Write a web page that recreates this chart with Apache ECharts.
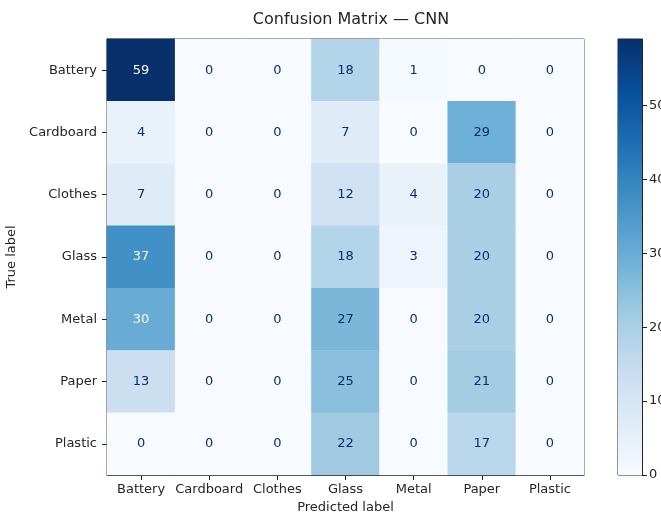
<!DOCTYPE html>
<html>
<head>
<meta charset="utf-8">
<script src="https://cdn.jsdelivr.net/npm/echarts@6/dist/echarts.min.js"></script>
<style>html,body{margin:0;padding:0;background:#fff;}#c{width:661px;height:515px;}</style>
</head>
<body>
<div id="c"></div>
<script>
var categories = ['Battery', 'Cardboard', 'Clothes', 'Glass', 'Metal', 'Paper', 'Plastic'];
// rows = true label, columns = predicted label
var rowBattery   = [59, 0, 0, 18, 1, 0, 0];
var rowCardboard = [4, 0, 0, 7, 0, 29, 0];
var rowClothes   = [7, 0, 0, 12, 4, 20, 0];
var rowGlass     = [37, 0, 0, 18, 3, 20, 0];
var rowMetal     = [30, 0, 0, 27, 0, 20, 0];
var rowPaper     = [13, 0, 0, 25, 0, 21, 0];
var rowPlastic   = [0, 0, 0, 22, 0, 17, 0];
var colorbarTicks = [0, 10, 20, 30, 40, 50];

var matrix = [rowBattery, rowCardboard, rowClothes, rowGlass, rowMetal, rowPaper, rowPlastic];
var blues = ['#f7fbff','#deebf7','#c6dbef','#9ecae1','#6baed6','#4292c6','#2171b5','#08519c','#08306b'];
var vmin = 0, vmax = 0;
matrix.forEach(function(r){ r.forEach(function(v){ if (v > vmax) vmax = v; }); });
var thresh = (vmax + vmin) / 2;
var data = [];
matrix.forEach(function(r, i){
  r.forEach(function(v, j){
    data.push({value: [j, i, v], label: {color: v > thresh ? '#f7fbff' : '#08306b'}});
  });
});
var font = 'DejaVu Sans';
var tc = '#262626';
var chart = echarts.init(document.getElementById('c'));
chart.setOption({
  animation: false,
  backgroundColor: '#fff',
  title: {
    text: 'Confusion Matrix \u2014 CNN',
    left: 346, top: 7, textAlign: 'center',
    textStyle: {fontFamily: font, fontSize: 16, fontWeight: 'normal', color: tc}
  },
  grid: [
    {left: 107, top: 39, width: 477, height: 436, show: true, borderColor: '#222', borderWidth: 1,
     backgroundColor: 'transparent', containLabel: false, outerBoundsMode: 'none'},
    {left: 618, top: 39, width: 24, height: 436, show: true, borderColor: '#222', borderWidth: 1,
     backgroundColor: 'transparent', containLabel: false, outerBoundsMode: 'none'}
  ],
  xAxis: [
    {type: 'category', gridIndex: 0, data: categories, position: 'bottom',
     name: 'Predicted label', nameLocation: 'middle', nameGap: 25,
     nameTextStyle: {fontFamily: font, fontSize: 13, color: tc},
     axisLine: {show: true, lineStyle: {color: '#222'}},
     axisTick: {show: true, alignWithLabel: true, length: 5, lineStyle: {color: '#222'}},
     axisLabel: {fontFamily: font, fontSize: 13, color: tc, margin: 8, interval: 0},
     splitLine: {show: false}},
    {type: 'category', gridIndex: 1, data: ['cb'], show: false}
  ],
  yAxis: [
    {type: 'category', gridIndex: 0, data: categories, inverse: true,
     name: 'True label', nameLocation: 'middle', nameGap: 80, nameRotate: 90,
     nameTextStyle: {fontFamily: font, fontSize: 13, color: tc},
     axisLine: {show: true, lineStyle: {color: '#222'}},
     axisTick: {show: true, alignWithLabel: true, length: 5, lineStyle: {color: '#222'}},
     axisLabel: {fontFamily: font, fontSize: 13, color: tc, margin: 10, interval: 0},
     splitLine: {show: false}},
    {type: 'value', gridIndex: 1, min: 0, max: vmax, position: 'right',
     axisLine: {show: true, lineStyle: {color: '#222'}},
     axisTick: {show: true, length: 5, customValues: colorbarTicks, lineStyle: {color: '#222'}},
     axisLabel: {fontFamily: font, fontSize: 13, color: tc, margin: 7, customValues: colorbarTicks},
     splitLine: {show: false}}
  ],
  visualMap: {show: false, min: vmin, max: vmax, seriesIndex: 0, inRange: {color: blues}},
  series: [
    {type: 'heatmap', xAxisIndex: 0, yAxisIndex: 0, data: data,
     label: {show: true, fontFamily: font, fontSize: 13},
     itemStyle: {borderWidth: 0}},
    {type: 'bar', xAxisIndex: 1, yAxisIndex: 1, data: [vmax], barWidth: '100%',
     silent: true,
     itemStyle: {color: new echarts.graphic.LinearGradient(0, 0, 0, 1,
       blues.slice().reverse().map(function(c, i){ return {offset: i / (blues.length - 1), color: c}; }))}}
  ]
});
</script>
</body>
</html>
